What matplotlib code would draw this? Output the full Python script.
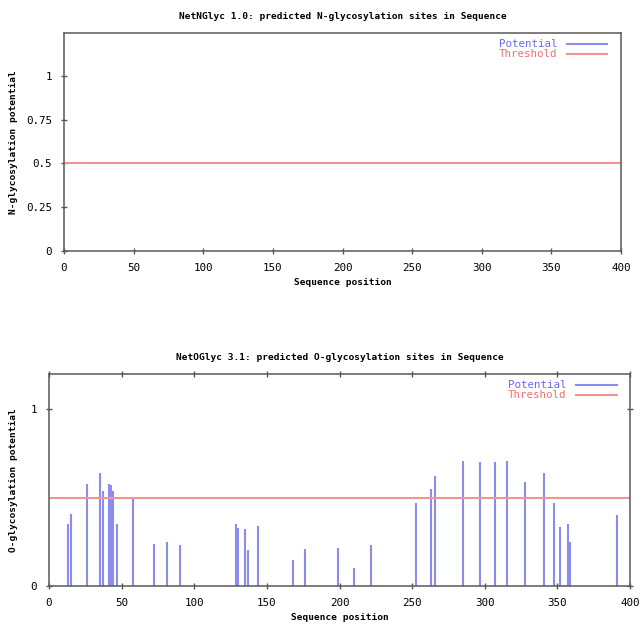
import matplotlib
matplotlib.use("Agg")
import matplotlib.pyplot as plt

# N-glycosylation: no predicted sites
n_positions = []
n_potential = []
n_threshold = 0.5

# O-glycosylation sites (position, potential)
o_positions = [13, 15, 26, 35, 37, 41, 43, 44, 47, 58, 72, 81, 90,
               129, 130, 135, 137, 144, 168, 176, 199, 210, 222,
               253, 263, 266, 285, 297, 307, 315, 328, 341, 348,
               352, 357, 359, 391]
o_potential = [0.35, 0.41, 0.58, 0.64, 0.54, 0.58, 0.57, 0.535, 0.35, 0.50,
               0.235, 0.25, 0.23, 0.35, 0.33, 0.32, 0.205, 0.34, 0.15, 0.21,
               0.217, 0.10, 0.23, 0.47, 0.55, 0.62, 0.71, 0.70, 0.70, 0.71,
               0.59, 0.64, 0.47, 0.335, 0.35, 0.25, 0.40]
o_threshold = 0.5

n_yticks = [0, 0.25, 0.5, 0.75, 1]
n_yticklabels = ["0", "0.25", "0.5", "0.75", "1"]
o_yticks = [0, 1]
x_ticks = [0, 50, 100, 150, 200, 250, 300, 350, 400]

blue = "#8c8cee"
red = "#f09494"
blue_text = "#6a6af0"
red_text = "#f07070"
border = "#585858"
font = {"family": "DejaVu Sans Mono", "size": 6.8}
tick_size = 7.8


def style_axes(ax, mirror):
    for s in ax.spines.values():
        s.set_color(border)
        s.set_linewidth(1.1)
    ax.tick_params(direction="inout", length=4, width=1, color=border,
                   labelsize=tick_size, top=mirror, right=mirror)
    ax.tick_params(axis="x", pad=6.5)
    ax.tick_params(axis="y", pad=6.5)
    for lab in ax.get_xticklabels() + ax.get_yticklabels():
        lab.set_family("DejaVu Sans Mono")


def add_legend(ax, xanchor):
    leg = ax.legend(loc="upper right", bbox_to_anchor=(xanchor, 1.0),
                    frameon=False, markerfirst=False, handlelength=3.7,
                    prop={"family": "DejaVu Sans Mono", "size": tick_size},
                    borderaxespad=0.2, labelspacing=0.0, handletextpad=0.9)
    for txt, c in zip(leg.get_texts(), [blue_text, red_text]):
        txt.set_color(c)
    return leg


fig = plt.figure(figsize=(6.44, 6.26), dpi=100)

# Top: NetNGlyc
ax1 = fig.add_axes([64 / 644, 1 - 251 / 626, 557 / 644, 218 / 626])
ax1.vlines(n_positions, 0, n_potential, color=blue, lw=1.5)
ax1.plot([], [], color=blue, lw=1.5, label="Potential")
ax1.axhline(n_threshold, color=red, lw=1.5, label="Threshold")
ax1.set_xlim(0, 400)
ax1.set_ylim(0, 1.245)
ax1.set_xticks(x_ticks)
ax1.set_yticks(n_yticks)
ax1.set_yticklabels(n_yticklabels)
style_axes(ax1, False)
add_legend(ax1, 0.987)
ax1.set_title("NetNGlyc 1.0: predicted N-glycosylation sites in Sequence",
              fontdict=font, fontweight="bold", pad=10)
ax1.set_xlabel("Sequence position", fontdict=font, fontweight="bold", labelpad=4)
ax1.set_ylabel("N-glycosylation potential", fontdict=font, fontweight="bold",
               labelpad=6)

# Bottom: NetOGlyc
ax2 = fig.add_axes([49 / 644, 1 - 586 / 626, 581 / 644, 212 / 626])
ax2.vlines(o_positions, 0, o_potential, color=blue, lw=1.5)
ax2.plot([], [], color=blue, lw=1.5, label="Potential")
ax2.axhline(o_threshold, color=red, lw=1.5, label="Threshold")
ax2.set_xlim(0, 400)
ax2.set_ylim(0, 1.2)
ax2.set_xticks(x_ticks)
ax2.set_yticks(o_yticks)
style_axes(ax2, True)
add_legend(ax2, 0.988)
ax2.set_title("NetOGlyc 3.1: predicted O-glycosylation sites in Sequence",
              fontdict=font, fontweight="bold", pad=10)
ax2.set_xlabel("Sequence position", fontdict=font, fontweight="bold", labelpad=4)
ax2.set_ylabel("O-glycosylation potential", fontdict=font, fontweight="bold",
               labelpad=9)

fig.savefig("out.png", dpi=100)
